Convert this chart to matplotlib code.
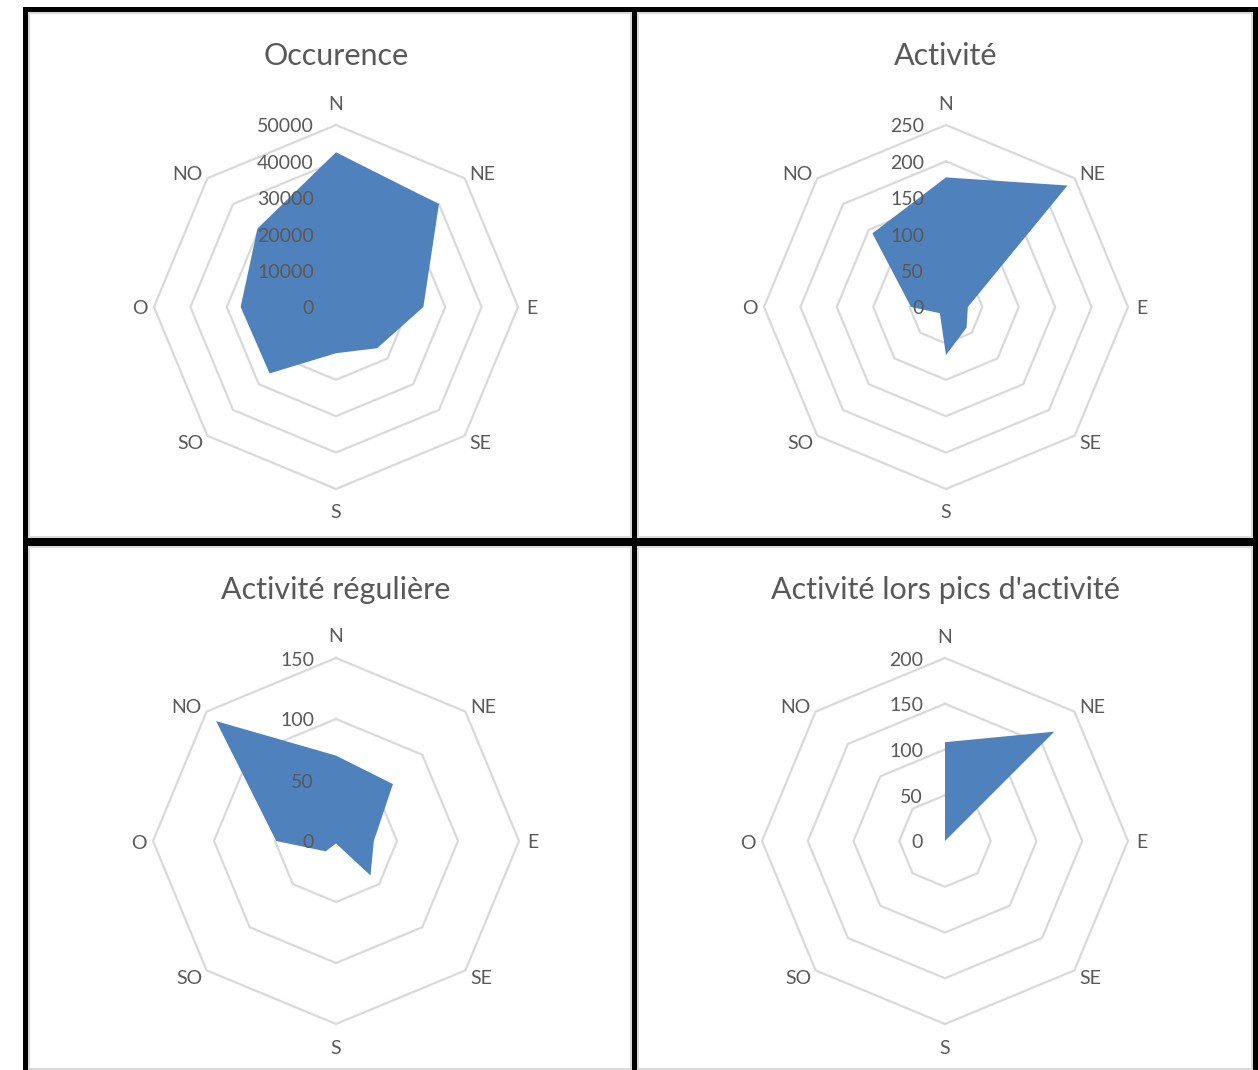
import numpy as np
import matplotlib
matplotlib.use("Agg")
import matplotlib.pyplot as plt
from matplotlib.patches import Rectangle

plt.rcParams['font.family'] = ['Lato', 'DejaVu Sans']

# Wind directions (French labels), clockwise from north
directions = ["N", "NE", "E", "SE", "S", "SO", "O", "NO"]

# Series values per direction
occurence = [42500, 40000, 24000, 16000, 12700, 25800, 26200, 30500]
activite = [178, 236, 30, 40, 66, 12, 48, 143]
activite_reguliere = [70, 66, 31, 40, 2, 12, 49, 139]
activite_pics = [108, 169, 0, 0, 0, 0, 0, 0]

# Radial tick values for each chart
ticks_occurence = [0, 10000, 20000, 30000, 40000, 50000]
ticks_activite = [0, 50, 100, 150, 200, 250]
ticks_reguliere = [0, 50, 100, 150]
ticks_pics = [0, 50, 100, 150, 200]

titles = ["Occurence", "Activité", "Activité régulière", "Activité lors pics d'activité"]

W, H = 1258, 1070
fig = plt.figure(figsize=(W / 100, H / 100), dpi=100)
fig.patch.set_facecolor("white")

TEXT = "#595959"
GRID = "#D9D9D9"
FILL = "#4F81BD"


def frac_rect(x0, y0, x1, y1, **kw):
    return Rectangle((x0 / W, 1 - y1 / H), (x1 - x0) / W, (y1 - y0) / H,
                     transform=fig.transFigure, **kw)


# light chart-area frames
for (x0, y0, x1, y1) in [(29, 13, 631, 537), (638, 13, 1252, 537),
                         (29, 547, 631, 1069), (638, 547, 1252, 1069)]:
    fig.patches.append(frac_rect(x0, y0, x1, y1, fill=False, edgecolor=GRID,
                                 linewidth=1.4, zorder=1))

# heavy black separators
for (x0, y0, x1, y1) in [(23, 7, 1258, 12), (23, 7, 28, 1070),
                         (632, 7, 637, 1070), (1253, 7, 1258, 1070),
                         (23, 538, 1258, 546)]:
    fig.patches.append(frac_rect(x0, y0, x1, y1, facecolor="black",
                                 edgecolor="none", zorder=2))

panels = [
    (occurence, ticks_occurence, titles[0], 336, 307, 182, 65),
    (activite, ticks_activite, titles[1], 946, 307, 182, 65),
    (activite_reguliere, ticks_reguliere, titles[2], 336, 841, 183, 599),
    (activite_pics, ticks_pics, titles[3], 945, 841, 183, 599),
]

# label offsets (pixels) for each direction, screen-y pointing up
label_off = {"N": (0, 21), "NE": (18, 4), "E": (14, -2), "SE": (16, -8),
             "S": (0, -24), "SO": (-17, -8), "O": (-14, -2), "NO": (-20, 4)}

theta = np.arange(len(directions)) * 2 * np.pi / len(directions)
theta_closed = np.append(theta, theta[0])

for values, ticks, title, cx, cy, R, ty in panels:
    ax = fig.add_axes([(cx - R) / W, 1 - (cy + R) / H, 2 * R / W, 2 * R / H],
                      projection="polar")
    ax.set_theta_zero_location("N")
    ax.set_theta_direction(-1)
    ax.set_ylim(0, ticks[-1])
    ax.grid(False)
    ax.set_xticks([])
    ax.set_yticks([])
    ax.spines["polar"].set_visible(False)
    ax.patch.set_visible(False)

    # octagonal grid rings
    for t in ticks[1:]:
        ax.plot(theta_closed, [t] * len(theta_closed), color=GRID,
                linewidth=1.6, zorder=1, clip_on=False)

    vals = np.append(values, values[0])
    ax.fill(theta_closed, vals, color=FILL, linewidth=0, zorder=2)

    # radial value labels along the north axis
    for t in ticks:
        ax.annotate(f"{t}", xy=(0, t), xytext=(-22, -2),
                    textcoords="offset pixels", ha="right", va="center",
                    fontsize=14, color=TEXT, zorder=3, annotation_clip=False)

    # direction labels
    for th, d in zip(theta, directions):
        ax.annotate(d, xy=(th, ticks[-1]), xytext=label_off[d],
                    textcoords="offset pixels", ha="center", va="center",
                    fontsize=14, color=TEXT, zorder=3, annotation_clip=False)

    fig.text(cx / W, 1 - ty / H, title, ha="center", va="baseline",
             fontsize=22, color=TEXT)

fig.savefig("out.png", dpi=100, facecolor="white")
